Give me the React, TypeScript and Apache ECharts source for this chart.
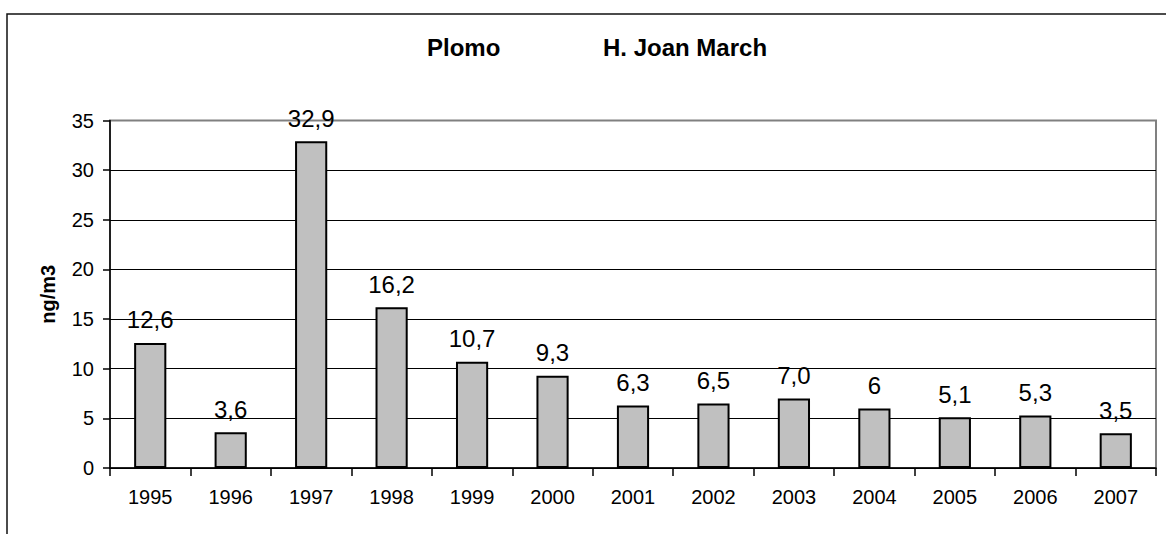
import React, { useEffect, useRef } from "react";
import * as echarts from "echarts";

const years = ["1995", "1996", "1997", "1998", "1999", "2000", "2001", "2002", "2003", "2004", "2005", "2006", "2007"];
const values = [12.6, 3.6, 32.9, 16.2, 10.7, 9.3, 6.3, 6.5, 7.0, 6, 5.1, 5.3, 3.5];
const valueLabels = ["12,6", "3,6", "32,9", "16,2", "10,7", "9,3", "6,3", "6,5", "7,0", "6", "5,1", "5,3", "3,5"];
const titleLeft = "Plomo";
const titleRight = "H. Joan March";
const yAxisName = "ng/m3";

const FONT = "'Liberation Sans', Arial, sans-serif";

export default function App() {
  const ref = useRef<HTMLDivElement>(null);
  useEffect(() => {
    document.body.style.margin = "0";
    if (!ref.current) return;
    const chart = echarts.init(ref.current, undefined, { renderer: "svg" });
    chart.setOption({
      animation: false,
      backgroundColor: "#ffffff",
      textStyle: { fontFamily: FONT },
      title: [
        {
          text: titleLeft,
          left: 427,
          top: 35,
          padding: 0,
          textStyle: { fontFamily: FONT, fontSize: 24, fontWeight: "bold", color: "#000" },
        },
        {
          text: titleRight,
          left: 603,
          top: 35,
          padding: 0,
          textStyle: { fontFamily: FONT, fontSize: 24, fontWeight: "bold", color: "#000" },
        },
      ],
      graphic: [
        {
          type: "rect",
          shape: { x: 7, y: 14, width: 1400, height: 800 },
          style: { fill: "none", stroke: "#111", lineWidth: 1.5 },
          silent: true,
        },
      ],
      grid: {
        left: 110,
        right: 10,
        top: 120.5,
        bottom: 66,
        show: true,
        borderColor: "#808080",
        borderWidth: 2,
        backgroundColor: "transparent",
      },
      xAxis: {
        type: "category",
        data: years,
        axisLine: { show: true, lineStyle: { color: "#000", width: 1.5 } },
        axisTick: { show: true, length: 8, lineStyle: { color: "#000", width: 1.5 } },
        axisLabel: { color: "#000", fontSize: 20, fontFamily: FONT, margin: 19 },
        splitLine: { show: false },
      },
      yAxis: {
        type: "value",
        min: 0,
        max: 35,
        interval: 5,
        name: yAxisName,
        nameLocation: "middle",
        nameRotate: 90,
        nameGap: 52,
        nameTextStyle: { fontFamily: FONT, fontSize: 20, fontWeight: "bold", color: "#000" },
        axisLine: { show: true, lineStyle: { color: "#000", width: 1.5 } },
        axisTick: { show: true, length: 7, lineStyle: { color: "#000", width: 1.5 } },
        axisLabel: { color: "#000", fontSize: 20, fontFamily: FONT, margin: 16 },
        splitLine: {
          show: true,
          lineStyle: {
            color: ["#000", "#000", "#000", "#000", "#000", "#000", "#000", "#808080"],
            width: 1,
          },
        },
      },
      series: [
        {
          type: "bar",
          data: values,
          barWidth: "40%",
          itemStyle: { color: "#C0C0C0", borderColor: "#000", borderWidth: 2 },
          label: {
            show: true,
            position: "top",
            distance: 11,
            color: "#000",
            fontSize: 24,
            fontFamily: FONT,
            formatter: (p: any) => valueLabels[p.dataIndex],
          },
        },
      ],
    });
    return () => chart.dispose();
  }, []);
  return <div ref={ref} style={{ width: 1166, height: 534 }} />;
}
